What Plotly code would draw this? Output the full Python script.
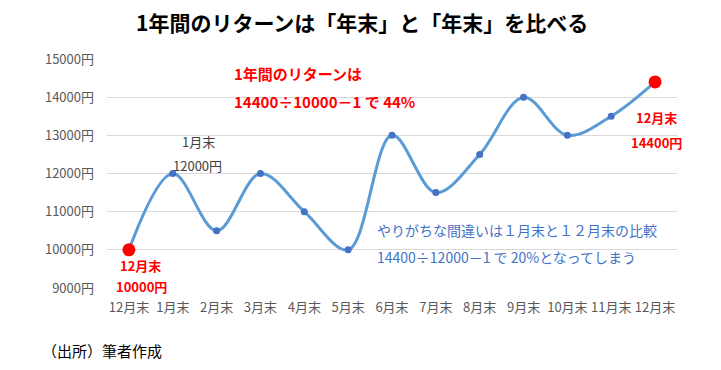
import plotly.graph_objects as go

categories = ["12月末", "1月末", "2月末", "3月末", "4月末", "5月末", "6月末",
              "7月末", "8月末", "9月末", "10月末", "11月末", "12月末 "]
values = [10000, 12000, 10500, 12000, 11000, 10000, 13000, 11500, 12500, 14000, 13000, 13500, 14400]
y_ticks = [9000, 10000, 11000, 12000, 13000, 14000, 15000]
y_tick_labels = [f"{v}円" for v in y_ticks]

FONT = "Noto Sans CJK JP"
OFF = 8  # page body margin
L, R, T, B = 107, 677, 59, 288   # plot area in page pixels
W, H = 721 - 2 * OFF, 370 - 2 * OFF

def px(x):
    return (x - L) / (R - L)

def py(y):
    return (B - y) / (B - T)

fig = go.Figure()
fig.add_trace(go.Scatter(
    x=categories, y=values, mode="lines+markers",
    line=dict(color="#5B9BD5", width=3, shape="spline", smoothing=1.0),
    marker=dict(color="#4472C4", size=7),
    showlegend=False, hoverinfo="skip",
))
fig.add_trace(go.Scatter(
    x=[categories[0], categories[-1]], y=[values[0], values[-1]], mode="markers",
    marker=dict(color="#FF0000", size=13),
    showlegend=False, hoverinfo="skip",
))

ann = []
def add(text, x, y, color, size, bold=False, xanchor="center"):
    ann.append(dict(text=f"<b>{text}</b>" if bold else text, x=px(x), y=py(y),
                    xref="paper", yref="paper", xanchor=xanchor, yanchor="middle",
                    showarrow=False, font=dict(family=FONT, size=size, color=color)))

add("1年間のリターンは「年末」と「年末」を比べる", 362, 22, "#000000", 21, bold=True)
add("1年間のリターンは", 232, 73, "#FF0000", 15, bold=True, xanchor="left")
add("14400÷10000－1 で 44%", 232, 101, "#FF0000", 15, bold=True, xanchor="left")
add("1月末", 198, 141, "#404040", 13)
add("12000円", 197, 165, "#404040", 13)
add("12月末", 140, 265, "#FF0000", 13, bold=True)
add("10000円", 141, 286, "#FF0000", 13, bold=True)
add("12月末", 656, 117, "#FF0000", 13, bold=True)
add("14400円", 656, 142, "#FF0000", 13, bold=True)
add("やりがちな間違いは１月末と１２月末の比較", 375, 230, "#4472C4", 14, xanchor="left")
add("14400÷12000－1 で 20%となってしまう", 375, 257, "#4472C4", 14, xanchor="left")
add("（出所）筆者作成", 40, 351, "#000000", 15, xanchor="left")

fig.update_layout(
    width=W, height=H,
    margin=dict(l=L - OFF, r=(721 - OFF) - R, t=T - OFF, b=(370 - OFF) - B, pad=0),
    paper_bgcolor="white", plot_bgcolor="white",
    font=dict(family=FONT, size=13, color="#595959"),
    annotations=ann,
    xaxis=dict(type="category", range=[-0.5, 12.5], showgrid=False, showline=False,
               zeroline=False, ticks="", tickfont=dict(size=13, color="#595959"),
               ticktext=[c.strip() for c in categories], tickvals=categories,
               ticklabelstandoff=10),
    yaxis=dict(range=[9000, 15000], tickvals=y_ticks, ticktext=y_tick_labels,
               showgrid=True, gridcolor="#D9D9D9", gridwidth=1, zeroline=False,
               showline=False, ticks="", ticklabelstandoff=12,
               tickfont=dict(size=13, color="#595959")),
)

fig.write_html("out.html")
